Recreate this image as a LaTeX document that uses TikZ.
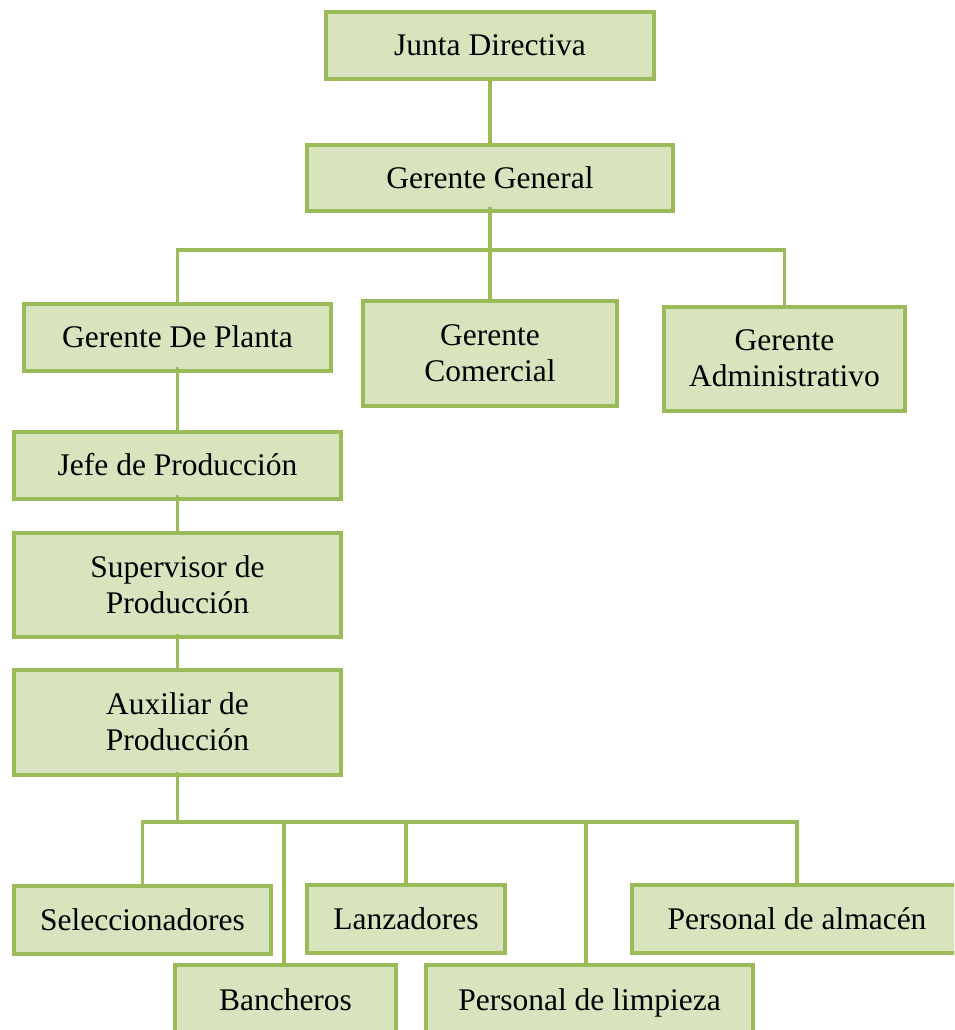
\documentclass[tikz,border=0pt]{standalone}
\usepackage{fontspec}
\setmainfont{Liberation Serif}
\usetikzlibrary{calc}
\definecolor{boxfill}{HTML}{D7E4BD}
\definecolor{boxline}{HTML}{9BBB59}
\begin{document}
\begin{tikzpicture}[x=1pt,y=-1pt,
  orgbox/.style={draw=boxline, fill=boxfill, line width=3.5pt, rectangle,
    inner sep=0pt, align=center, text=black, text depth=1.5pt,
    font=\fontsize{31.5}{36}\selectfont},
  conn/.style={draw=boxline, line width=3.2pt}]
\path[use as bounding box] (0,0) rectangle (954,1030);
\clip (0,0) rectangle (954,1030);

% top levels
\node[orgbox, minimum width=328pt, minimum height=67pt] (junta) at (490,45.5) {Junta Directiva};
\node[orgbox, minimum width=366pt, minimum height=66pt] (gg) at (490,178) {Gerente General};
\node[orgbox, minimum width=307pt, minimum height=67pt] (gp) at (177.5,337.5) {Gerente De Planta};
\node[orgbox, minimum width=254pt, minimum height=105pt] (gc) at (490,353.5) {Gerente\\Comercial};
\node[orgbox, minimum width=241pt, minimum height=104pt] (ga) at (784.5,359) {Gerente\\Administrativo};

% production chain
\node[orgbox, minimum width=327pt, minimum height=67pt] (jp) at (177.5,465.5) {Jefe de Producción};
\node[orgbox, minimum width=327pt, minimum height=104pt] (sp) at (177.5,585) {Supervisor de\\Producción};
\node[orgbox, minimum width=327pt, minimum height=105pt] (ap) at (177.5,722.5) {Auxiliar de\\Producción};

% staff
\node[orgbox, minimum width=257pt, minimum height=68pt] (sel) at (142.5,920) {Seleccionadores};
\node[orgbox, minimum width=198pt, minimum height=68pt] (lan) at (406,919) {Lanzadores};
\node[orgbox, minimum width=330pt, minimum height=68pt] (alm) at (797,919) {Personal de almacén};
\node[orgbox, minimum width=221pt, minimum height=70pt] (ban) at (285.5,1000) {Bancheros};
\node[orgbox, minimum width=327pt, minimum height=70pt] (lim) at (589.5,1000) {Personal de limpieza};

% bus lines
\coordinate (bus1) at (490,250);
\coordinate (bus2) at (177.5,822);

% connectors
\draw[conn] (junta.south) -- (gg.north);
\draw[conn] ($(gg.south)+(0,-6)$) -- (gc.north);
\draw[conn] (gp.north) |- (bus1) -| (ga.north);
\draw[conn] ($(gp.south)+(0,-6)$) -- (jp.north);
\draw[conn] ($(jp.south)+(0,-6)$) -- (sp.north);
\draw[conn] ($(sp.south)+(0,-5)$) -- (ap.north);
\draw[conn] ($(ap.south)+(0,-5)$) -- (bus2);
\draw[conn] (sel.north) |- (bus2) -| (alm.north);
\draw[conn] ($(ban.north)+(-1.5,0)$) -- ($(ban.north |- bus2)+(-1.5,0)$);
\draw[conn] (lan.north) -- (lan.north |- bus2);
\draw[conn] ($(lim.north)+(-3.5,0)$) -- ($(lim.north |- bus2)+(-3.5,0)$);
\end{tikzpicture}
\end{document}
